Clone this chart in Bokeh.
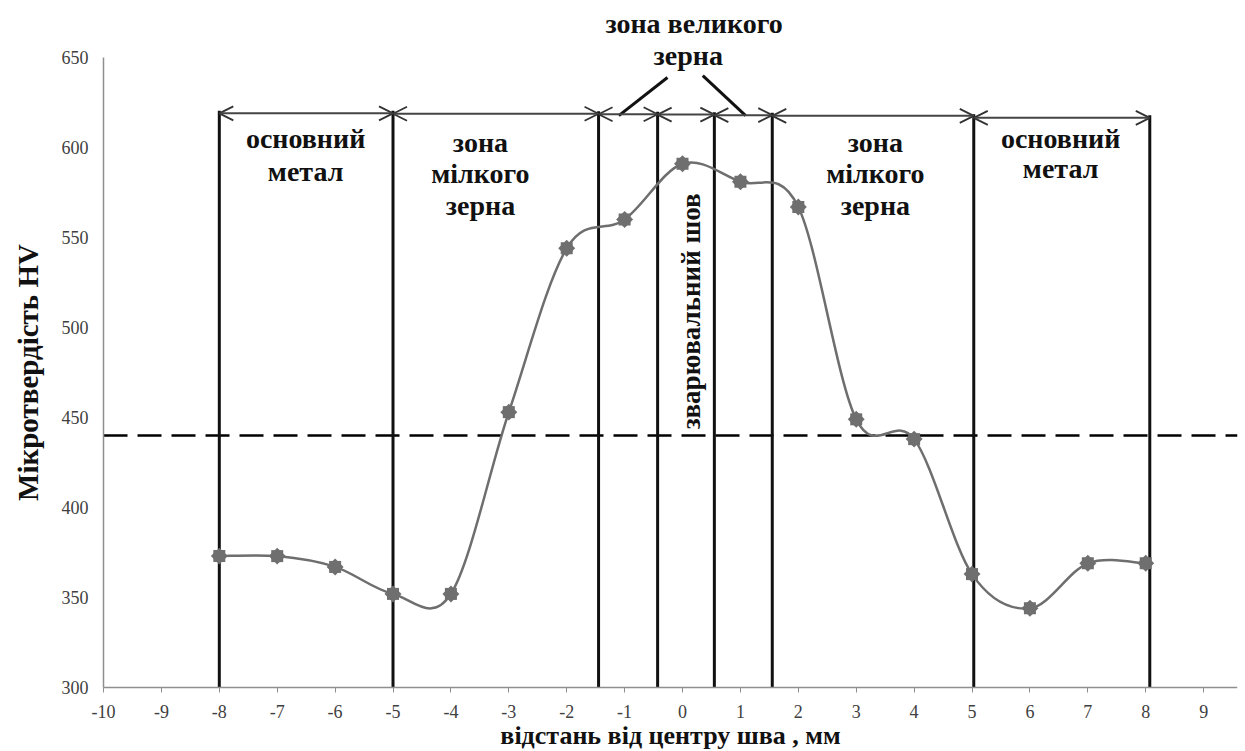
import math
from bokeh.plotting import figure
from bokeh.models import ColumnDataSource, FixedTicker, Range1d, Arrow, OpenHead, Label
from bokeh.embed import file_html
from bokeh.resources import INLINE

# ---------------- data ----------------
x_mm = [-8, -7, -6, -5, -4, -3, -2, -1, 0, 1, 2, 3, 4, 5, 6, 7, 8]
hv = [373, 373, 367, 352, 352, 453, 544, 560, 591, 581, 567, 449, 438, 363, 344, 369, 369]
x_ticks = list(range(-10, 10))
y_ticks = list(range(300, 651, 50))
zone_bounds = [-8, -5, -1.45, -0.43, 0.55, 1.55, 5.03, 8.07]
zone_arrow_hv = [619, 618.8, 618.5, 618.3, 618.0, 617.6, 616.5]
threshold_hv = 440
x_title = "відстань від центру шва , мм"
y_title = "Мікротвердість HV"

SERIF = "Liberation Serif"
X_START = -11.779
X_END = 9.585
Y_START = 265.0
Y_END = 681.7

p = figure(width=1244, height=750, x_range=Range1d(X_START, X_END), y_range=Range1d(Y_START, Y_END),
           output_backend="svg", toolbar_location=None,
           min_border_left=0, min_border_right=7, min_border_top=0, min_border_bottom=0)
p.outline_line_color = None
p.xgrid.visible = False
p.ygrid.visible = False
p.background_fill_color = "white"

# axes (fixed at x=-10 / y=300 so that labels and titles keep the original spacing)
p.xaxis.fixed_location = 300
p.yaxis.fixed_location = -10
p.xaxis.bounds = (-10, X_END)
p.yaxis.bounds = (300, 650)
p.xaxis.ticker = FixedTicker(ticks=x_ticks)
p.yaxis.ticker = FixedTicker(ticks=y_ticks)
p.xaxis.major_label_overrides = {t: str(t) for t in x_ticks}
p.yaxis.major_label_overrides = {t: str(t) for t in y_ticks}
for ax in (p.xaxis[0], p.yaxis[0]):
    ax.axis_line_color = "#8f8f8f"
    ax.axis_line_width = 1.5
    ax.major_tick_line_color = "#8f8f8f"
    ax.minor_tick_line_color = None
    ax.major_label_text_font = SERIF
    ax.major_label_text_font_size = "18px"
    ax.major_label_text_color = "#404040"
    ax.axis_label_text_font = SERIF
    ax.axis_label_text_font_style = "bold"
    ax.axis_label_text_color = "#111111"
p.xaxis.major_tick_in = 0
p.xaxis.major_tick_out = 5
p.xaxis.major_label_standoff = 12
p.xaxis.axis_label_standoff = 0
p.xaxis.axis_label_text_font_size = "26px"
p.xaxis.axis_label = x_title
p.yaxis.major_tick_in = 0
p.yaxis.major_tick_out = 0
p.yaxis.major_label_standoff = 15
p.yaxis.axis_label_standoff = 15
p.yaxis.axis_label_text_font_size = "29px"
p.yaxis.axis_label = y_title

# dashed threshold line
p.segment(x0=[-10], y0=[threshold_hv], x1=[X_END], y1=[threshold_hv],
          line_color="black", line_width=2.5, line_dash="24 10")

# zone boundary verticals
tops = []
for i, b in enumerate(zone_bounds):
    if i == 0:
        lvl = zone_arrow_hv[0]
    elif i == len(zone_bounds) - 1:
        lvl = zone_arrow_hv[-1]
    else:
        lvl = (zone_arrow_hv[i - 1] + zone_arrow_hv[i]) / 2
    tops.append(lvl + 1.5)
p.segment(x0=zone_bounds, y0=[300] * len(zone_bounds), x1=zone_bounds, y1=tops,
          line_color="#111111", line_width=3)

# double arrows between boundaries
arr_src = ColumnDataSource(dict(x0=zone_bounds[:-1], x1=zone_bounds[1:],
                                y0=zone_arrow_hv, y1=zone_arrow_hv))
p.add_layout(Arrow(x_start="x0", y_start="y0", x_end="x1", y_end="y1", source=arr_src,
                   line_color="#444444", line_width=2,
                   start=OpenHead(size=14, line_color="#333333", line_width=1.8),
                   end=OpenHead(size=14, line_color="#333333", line_width=1.8)))

# leader lines to the "зона великого зерна" title
p.segment(x0=[-1.1, 0.35], y0=[617.7, 640.0], x1=[-0.26, 1.09], y1=[638.9, 617.7],
          line_color="#111111", line_width=3)

# smooth curve (Bezier segments through the measured points)
n = len(x_mm)
bz = dict(x0=[], y0=[], x1=[], y1=[], cx0=[], cy0=[], cx1=[], cy1=[])
for i in range(n - 1):
    a = i - 1 if i > 0 else i
    d = i + 2 if i + 2 < n else i + 1
    bz["x0"].append(x_mm[i]); bz["y0"].append(hv[i])
    bz["x1"].append(x_mm[i + 1]); bz["y1"].append(hv[i + 1])
    bz["cx0"].append(x_mm[i] + (x_mm[i + 1] - x_mm[a]) / 6)
    bz["cy0"].append(hv[i] + (hv[i + 1] - hv[a]) / 6)
    bz["cx1"].append(x_mm[i + 1] - (x_mm[d] - x_mm[i]) / 6)
    bz["cy1"].append(hv[i + 1] - (hv[d] - hv[i]) / 6)
p.bezier(x0="x0", y0="y0", x1="x1", y1="y1", cx0="cx0", cy0="cy0", cx1="cx1", cy1="cy1",
         source=ColumnDataSource(bz), line_color="#6e6e6e", line_width=2.5)

pts = ColumnDataSource(dict(x=x_mm, y=hv))
p.scatter("x", "y", source=pts, marker="square", size=12, fill_color="#6f6f6f", line_color=None)
p.scatter("x", "y", source=pts, marker="square", size=12, angle=math.pi / 4,
          fill_color="#6f6f6f", line_color=None)

# zone labels
lab_text = ["основний", "метал",
            "зона", "мілкого", "зерна",
            "зона", "мілкого", "зерна",
            "основний", "метал",
            "зона  великого", "зерна"]
lab_x = [-6.51, -6.51,
         -3.49, -3.49, -3.49,
         3.33, 3.33, 3.33,
         6.53, 6.53,
         0.26, 0.10]
lab_y = [605.0, 586.7,
         602.8, 585.6, 567.8,
         602.8, 585.6, 567.8,
         605.0, 588.3,
         668.9, 651.1]
for t, lx, ly in zip(lab_text, lab_x, lab_y):
    p.add_layout(Label(x=lx, y=ly, text=t, text_font=SERIF, text_font_style="bold",
                       text_font_size="28px", text_align="center", text_baseline="middle",
                       text_color="#111111"))
p.add_layout(Label(x=0.14, y=509, text="зварювальний шов", angle=math.pi / 2,
                   text_font=SERIF, text_font_style="bold", text_font_size="27px",
                   text_align="center", text_baseline="middle", text_color="#111111"))

open("out.html", "w").write(file_html(p, INLINE))
